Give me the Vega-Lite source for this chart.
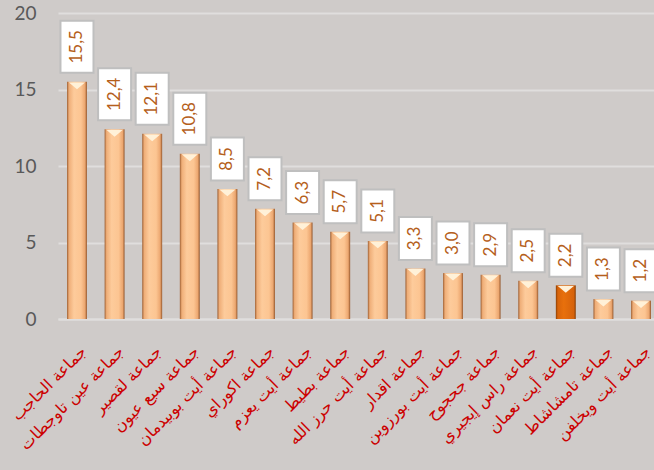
{
  "$schema": "https://vega.github.io/schema/vega-lite/v6.json",
  "width": 596,
  "height": 306,
  "autosize": {"type": "none"},
  "padding": {"left": 58, "top": 13, "right": 0, "bottom": 151},
  "background": "#cfcbc9",
  "config": {"view": {"stroke": null}, "font": "Lato"},
  "data": {
    "values": [
      {"commune": "جماعة الحاجب", "v": 15.5, "label": "15,5"},
      {"commune": "جماعة عين تاوجطات", "v": 12.4, "label": "12,4"},
      {"commune": "جماعة لقصير", "v": 12.1, "label": "12,1"},
      {"commune": "جماعة سبع عيون", "v": 10.8, "label": "10,8"},
      {"commune": "جماعة أيت بوبيدمان", "v": 8.5, "label": "8,5"},
      {"commune": "جماعة اكوراي", "v": 7.2, "label": "7,2"},
      {"commune": "جماعة أيت يعزم", "v": 6.3, "label": "6,3"},
      {"commune": "جماعة بطيط", "v": 5.7, "label": "5,7"},
      {"commune": "جماعة أيت حرز الله", "v": 5.1, "label": "5,1"},
      {"commune": "جماعة اقدار", "v": 3.3, "label": "3,3"},
      {"commune": "جماعة أيت بورزوين", "v": 3.0, "label": "3,0"},
      {"commune": "جماعة جحجوح", "v": 2.9, "label": "2,9"},
      {"commune": "جماعة راس إيجيري", "v": 2.5, "label": "2,5"},
      {"commune": "جماعة أيت نعمان", "v": 2.2, "label": "2,2"},
      {"commune": "جماعة تامشاشاط", "v": 1.3, "label": "1,3"},
      {"commune": "جماعة أيت ويخلفن", "v": 1.2, "label": "1,2"}
    ]
  },
  "encoding": {
    "x": {
      "field": "commune",
      "type": "nominal",
      "sort": null,
      "scale": {
        "domain": ["جماعة الحاجب", "جماعة عين تاوجطات", "جماعة لقصير", "جماعة سبع عيون", "جماعة أيت بوبيدمان", "جماعة اكوراي", "جماعة أيت يعزم", "جماعة بطيط", "جماعة أيت حرز الله", "جماعة اقدار", "جماعة أيت بورزوين", "جماعة جحجوح", "جماعة راس إيجيري", "جماعة أيت نعمان", "جماعة تامشاشاط", "جماعة أيت ويخلفن"],
        "range": [0, 602], "paddingInner": 0.47, "paddingOuter": 0.24
      },
      "axis": {
        "title": null,
        "domain": true,
        "domainColor": "#e0dedd",
        "domainWidth": 2,
        "ticks": false,
        "labelAngle": -45,
        "labelAlign": "right",
        "labelBaseline": "top",
        "labelPadding": 24,
        "labelOffset": 1,
        "labelColor": "#cc0000",
        "labelFont": "DejaVu Sans",
        "labelFontSize": 16,
        "labelLimit": 400,
        "labelOverlap": false,
        "labelBound": false,
        "labelFlush": false
      }
    },
    "y": {
      "field": "v",
      "type": "quantitative",
      "scale": {"domain": [0, 20]},
      "axis": {
        "title": null,
        "values": [0, 5, 10, 15, 20],
        "grid": true,
        "gridColor": "#e0dedd",
        "gridWidth": 2,
        "domain": false,
        "ticks": false,
        "labelFontSize": 19,
        "labelColor": "#595959",
        "labelPadding": 22
      }
    }
  },
  "layer": [
    {
      "transform": [{"filter": "datum.commune != 'جماعة أيت نعمان'"}],
      "mark": {
        "type": "bar",
        "fill": {
          "gradient": "linear", "x1": 0, "x2": 1, "y1": 0, "y2": 0,
          "stops": [
            {"offset": 0, "color": "#9e5f32"},
            {"offset": 0.1, "color": "#efae78"},
            {"offset": 0.35, "color": "#fdcb9b"},
            {"offset": 0.7, "color": "#fcc592"},
            {"offset": 0.9, "color": "#eca770"},
            {"offset": 1, "color": "#94572c"}
          ]
        }
      }
    },
    {
      "transform": [{"filter": "datum.commune == 'جماعة أيت نعمان'"}],
      "mark": {
        "type": "bar",
        "fill": {
          "gradient": "linear", "x1": 0, "x2": 1, "y1": 0, "y2": 0,
          "stops": [
            {"offset": 0, "color": "#8a3f05"},
            {"offset": 0.1, "color": "#d8640a"},
            {"offset": 0.4, "color": "#e8700c"},
            {"offset": 0.9, "color": "#d6620a"},
            {"offset": 1, "color": "#843c04"}
          ]
        }
      }
    },
    {
      "mark": {
        "type": "point",
        "shape": "M-1,-0.42L1,-0.42L0,0.42Z",
        "size": 260,
        "filled": true,
        "fill": "#fff1d8",
        "opacity": 1,
        "strokeWidth": 0,
        "yOffset": 4
      }
    },
    {
      "transform": [{"filter": "datum.v >= 10"}],
      "mark": {
        "type": "point",
        "shape": "M-0.635,-1H0.635V1H-0.635Z",
        "size": 2704,
        "filled": true,
        "fill": "#ffffff",
        "stroke": "#bfbfbf",
        "strokeWidth": 2,
        "opacity": 1,
        "yOffset": -35
      }
    },
    {
      "transform": [{"filter": "datum.v < 10"}],
      "mark": {
        "type": "point",
        "shape": "M-0.767,-1H0.767V1H-0.767Z",
        "size": 1849,
        "filled": true,
        "fill": "#ffffff",
        "stroke": "#bfbfbf",
        "strokeWidth": 2,
        "opacity": 1,
        "yOffset": -30
      }
    },
    {
      "transform": [{"filter": "datum.v >= 10"}],
      "mark": {
        "type": "text",
        "angle": -90,
        "align": "center",
        "baseline": "middle",
        "fontSize": 17,
        "color": "#b5601c",
        "yOffset": -35
      },
      "encoding": {"text": {"field": "label"}}
    },
    {
      "transform": [{"filter": "datum.v < 10"}],
      "mark": {
        "type": "text",
        "angle": -90,
        "align": "center",
        "baseline": "middle",
        "fontSize": 17,
        "color": "#b5601c",
        "yOffset": -30
      },
      "encoding": {"text": {"field": "label"}}
    }
  ]
}
